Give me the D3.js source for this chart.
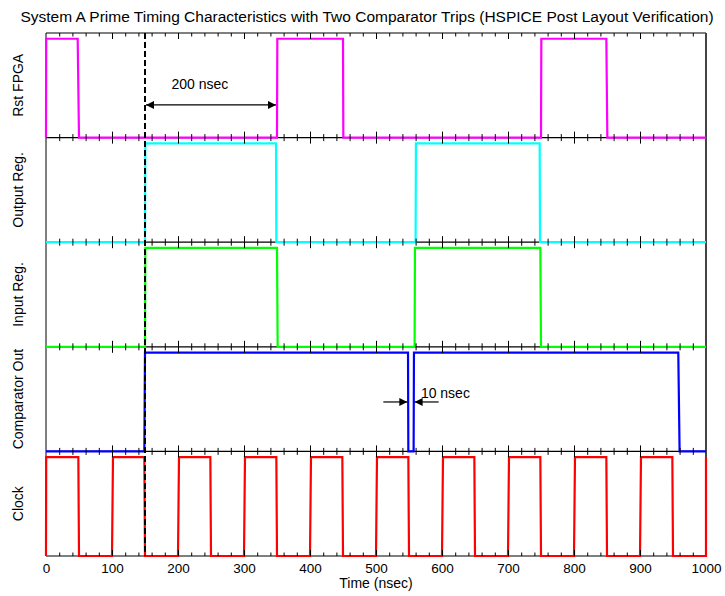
<!DOCTYPE html>
<html>
<head>
<meta charset="utf-8">
<script src="https://cdn.jsdelivr.net/npm/d3@7"></script>
<style>
    body { margin: 0; background: #fff; }
    text { font-family: "Liberation Sans", Arial, sans-serif; fill: #000; }
</style>
</head>
<body>
<div id="chart"></div>
<script>
// ---- data ----
const signalNames = ["Rst FPGA", "Output Reg.", "Input Reg.", "Comparator Out", "Clock"];
const signalColors = ["#ff00ff", "#00ffff", "#00ff00", "#0000ff", "#ff0000"];

const rstTime = [0, 0.3, 48, 50, 350, 350.5, 450, 450.5, 750, 750.5, 849, 850.5, 1000];
const rstLevel = [0, 1, 1, 0, 0, 1, 1, 0, 0, 1, 1, 0, 0];

const outTime = [0, 150, 150.5, 348.5, 349, 560, 560.5, 748, 748.5, 1000];
const outLevel = [0, 0, 1, 1, 0, 0, 1, 1, 0, 0];

const inTime = [0, 150, 150.5, 350, 351, 558.5, 559, 749, 750, 1000];
const inLevel = [0, 0, 1, 1, 0, 0, 1, 1, 0, 0];

const compTime = [0, 149, 150, 548.5, 549, 557, 557.5, 958, 960, 1000];
const compLevel = [0, 0, 1, 1, 0, 0, 1, 1, 0, 0];

const clockTime = [0, 0.3, 49, 50, 100, 101.5, 149, 150, 200, 201.5, 249, 250,
    300, 301.5, 349, 350, 400, 401.5, 449, 450, 500, 501.5, 549, 550,
    600, 601.5, 649, 650, 700, 701.5, 749, 750, 800, 801.5, 849, 850,
    900, 901.5, 949, 950, 1000, 1000];
const clockLevel = [0, 1, 1, 0, 0, 1, 1, 0, 0, 1, 1, 0,
    0, 1, 1, 0, 0, 1, 1, 0, 0, 1, 1, 0,
    0, 1, 1, 0, 0, 1, 1, 0, 0, 1, 1, 0,
    0, 1, 1, 0, 0, 1];

const signalTimes = [rstTime, outTime, inTime, compTime, clockTime];
const signalLevels = [rstLevel, outLevel, inLevel, compLevel, clockLevel];

const majorTicks = [0, 100, 200, 300, 400, 500, 600, 700, 800, 900, 1000];
const minorTicks = d3.range(0, 1001, 20).filter(t => t % 100 !== 0);

const markerTime = 150;           // dashed reference line
const span200 = [150, 350];       // "200 nsec"
const span10 = [549, 557];        // "10 nsec"

// ---- layout ----
const width = 725, height = 596;
const plotTop = 33, plotBottom = 556;
const panelH = (plotBottom - plotTop) / signalNames.length;

let svg = d3.select("#chart")
    .append("svg")
    .attr("width", width)
    .attr("height", height);

let x = d3.scaleLinear().domain([0, 1000]).range([46, 706]);

svg.append("text")
    .attr("x", 367)
    .attr("y", 22)
    .style("text-anchor", "middle")
    .style("font-size", "15.5px")
    .text("System A Prime Timing Characteristics with Two Comparator Trips (HSPICE Post Layout Verification)");

let defs = svg.append("defs");
defs.append("marker")
    .attr("id", "arrow")
    .attr("viewBox", "0 0 10 10")
    .attr("refX", 10)
    .attr("refY", 5)
    .attr("markerUnits", "userSpaceOnUse")
    .attr("markerWidth", 11)
    .attr("markerHeight", 8)
    .attr("orient", "auto-start-reverse")
    .append("path")
    .attr("d", "M0,0 L10,5 L0,10 Z")
    .attr("fill", "#000");

let panels = signalNames.map((name, i) => {
    let top = plotTop + i * panelH;
    let y = d3.scaleLinear().domain([0, 1.058]).range([top + panelH, top]);
    return {name, i, top, bottom: top + panelH, y};
});

// panel frames
panels.forEach(p => {
    svg.append("line")
        .attr("x1", x(0)).attr("x2", x(1000))
        .attr("y1", p.top).attr("y2", p.top)
        .attr("stroke", "#000").attr("stroke-width", 1.2);
    svg.append("text")
        .attr("transform", `translate(22.5, ${(p.top + p.bottom) / 2}) rotate(-90)`)
        .style("text-anchor", "middle")
        .style("font-size", "14px")
        .text(p.name);
});
svg.append("line")
    .attr("x1", x(0)).attr("x2", x(1000))
    .attr("y1", plotBottom).attr("y2", plotBottom)
    .attr("stroke", "#000").attr("stroke-width", 1.2);
svg.append("line")
    .attr("x1", x(0)).attr("x2", x(0))
    .attr("y1", plotTop).attr("y2", plotBottom)
    .attr("stroke", "#000").attr("stroke-width", 1);
svg.append("line")
    .attr("x1", x(1000)).attr("x2", x(1000))
    .attr("y1", plotTop).attr("y2", plotBottom)
    .attr("stroke", "#444").attr("stroke-width", 2);

// signals
panels.forEach(p => {
    let pts = signalTimes[p.i].map((t, k) => [t, signalLevels[p.i][k]]);
    let line = d3.line()
        .x(d => x(d[0]))
        .y(d => p.y(d[1]));
    svg.append("path")
        .datum(pts)
        .attr("fill", "none")
        .attr("stroke", signalColors[p.i])
        .attr("stroke-width", 2.2)
        .attr("stroke-linejoin", "miter")
        .attr("d", line);
});

// inward ticks on each panel edge
function tickAxis(axisFn, ypos, values, size) {
    let g = svg.append("g")
        .attr("transform", `translate(0, ${ypos})`)
        .call(axisFn(x).tickValues(values).tickSize(-size).tickSizeOuter(0).tickFormat(""));
    g.select(".domain").remove();
    g.selectAll(".tick line").attr("stroke", "#000").attr("stroke-width", 1);
}
panels.forEach(p => {
    tickAxis(d3.axisBottom, p.bottom, minorTicks, 3.5);
    tickAxis(d3.axisBottom, p.bottom, majorTicks.slice(1, -1), 6);
    tickAxis(d3.axisTop, p.top, minorTicks, 3.5);
    tickAxis(d3.axisTop, p.top, majorTicks.slice(1, -1), 6);
});

// bottom tick labels
let xAxis = svg.append("g")
    .attr("transform", `translate(0, ${plotBottom})`)
    .call(d3.axisBottom(x).tickValues(majorTicks).tickSize(0).tickPadding(7).tickFormat(d3.format("d")));
xAxis.select(".domain").remove();
xAxis.selectAll("text").style("font-size", "13.5px").style("font-family", "'Liberation Sans', Arial, sans-serif");

svg.append("text")
    .attr("x", x(500))
    .attr("y", 588)
    .style("text-anchor", "middle")
    .style("font-size", "14px")
    .text("Time (nsec)");

// dashed reference line
svg.append("line")
    .attr("x1", x(markerTime)).attr("x2", x(markerTime))
    .attr("y1", plotTop).attr("y2", plotBottom)
    .attr("stroke", "#000")
    .attr("stroke-width", 2)
    .attr("stroke-dasharray", "6,3");

// "200 nsec" annotation
let yA = panels[0].y(0.33);
svg.append("line")
    .attr("x1", x(span200[0]) + 1).attr("x2", x(span200[1]) - 1)
    .attr("y1", yA).attr("y2", yA)
    .attr("stroke", "#000").attr("stroke-width", 1.2)
    .attr("marker-start", "url(#arrow)")
    .attr("marker-end", "url(#arrow)");
svg.append("text")
    .attr("x", x(190))
    .attr("y", yA - 16)
    .style("font-size", "14px")
    .text("200 nsec");

// "10 nsec" annotation
let yB = panels[3].y(0.5);
svg.append("line")
    .attr("x1", x(span10[0]) - 25).attr("x2", x(span10[0]) - 1)
    .attr("y1", yB).attr("y2", yB)
    .attr("stroke", "#000").attr("stroke-width", 1.2)
    .attr("marker-end", "url(#arrow)");
svg.append("line")
    .attr("x1", x(span10[1]) + 25).attr("x2", x(span10[1]) + 1)
    .attr("y1", yB).attr("y2", yB)
    .attr("stroke", "#000").attr("stroke-width", 1.2)
    .attr("marker-end", "url(#arrow)");
svg.append("text")
    .attr("x", x(568))
    .attr("y", yB - 4)
    .style("font-size", "14px")
    .text("10 nsec");
</script>
</body>
</html>
